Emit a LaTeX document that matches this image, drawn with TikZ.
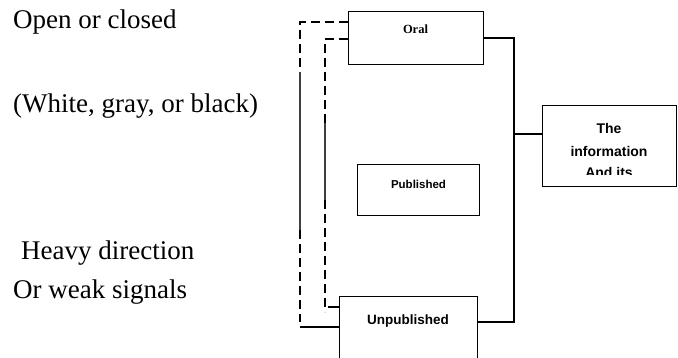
\documentclass[tikz,border=0pt]{standalone}
\usepackage{fontspec}
\setmainfont{Liberation Serif}
\setsansfont{Liberation Sans}
\begin{document}
\begin{tikzpicture}[x=1pt,y=-1pt,
  box/.style={draw, line width=1.3pt, inner sep=0pt, anchor=north west},
  lbl/.style={anchor=base west, inner sep=0pt, font=\fontsize{27}{30}\selectfont},
  boxtxt/.style={anchor=base, inner sep=0pt, font=\sffamily\bfseries\fontsize{13.5}{16}\selectfont},
  link/.style={line width=1.6pt},
  dashlink/.style={line width=2.4pt, dash pattern=on 9pt off 5pt},
  thinlink/.style={line width=1.2pt, draw=black!75}]
\useasboundingbox (0,0) rectangle (678,358);
\clip (0,0) rectangle (678,358);

% left-hand captions
\node[lbl] (open)  at (13,29)  {Open or closed};
\node[lbl] (white) at (13,113) {(White, gray, or black)};
\node[lbl] (heavy) at (21,260) {Heavy direction};
\node[lbl] (weak)  at (13,299) {Or weak signals};

% boxes
\node[box, minimum width=135pt, minimum height=53pt] (oral)    at (348,11)  {};
\node[box, minimum width=122pt, minimum height=51pt] (pub)     at (357,164) {};
\node[box, minimum width=138pt, minimum height=90pt] (unpub)   at (338.5,296) {};
\node[box, minimum width=134pt, minimum height=81pt] (info)    at (542,105) {};

% box texts
\node[anchor=base, inner sep=0pt, font=\bfseries\fontsize{12.5}{14}\selectfont] (oraltxt) at (415.5,34) {Oral};
\node[boxtxt, font=\sffamily\bfseries\fontsize{11.5}{14}\selectfont] (pubtxt) at (418.5,189) {Published};
\node[boxtxt] (unpubtxt) at (408,324) {Unpublished};
\begin{scope}
  \clip (542,105) rectangle (676,175);
  \node[boxtxt, font=\sffamily\bfseries\fontsize{14}{16}\selectfont] (infoa) at (609,134) {The};
  \node[boxtxt, font=\sffamily\bfseries\fontsize{14}{16}\selectfont] (infob) at (609,157) {information};
  \node[boxtxt, font=\sffamily\bfseries\fontsize{14}{16}\selectfont] (infoc) at (609,178) {And its};
\end{scope}

% right-hand bracket joining the boxes to the information box
\coordinate (rt) at (514,38);
\coordinate (rb) at (514,322);
\coordinate (rm) at (514,134);
\draw[link] (oral.east |- rt) -- (rt) -- (rb) -- (unpub.east |- rb);
\draw[link] (rm) -- (info.west |- rm);

% outer dashed loop
\coordinate (oa) at (300,22);
\coordinate (ob) at (300,72);
\coordinate (oc) at (300,230);
\coordinate (od) at (300,322);
\coordinate (oe) at (300,327);
\draw[dashlink] (oral.west |- oa) -- (oa) -- (ob);
\draw[thinlink] (ob) -- (oc);
\draw[dashlink] (oc) -- (od);
\draw[link] (oe) -- (unpub.west |- oe);

% inner dashed loop
\coordinate (ia) at (325,39);
\coordinate (ib) at (325,123);
\coordinate (ic) at (325,200);
\coordinate (id) at (325,312);
\coordinate (ie) at (328,307);
\draw[dashlink] (oral.west |- ia) -- (ia) -- (ib);
\draw[thinlink] (ib) -- (ic);
\draw[dashlink] (ic) -- (id);
\draw[link] (ie) -- (unpub.west |- ie);
\end{tikzpicture}
\end{document}
